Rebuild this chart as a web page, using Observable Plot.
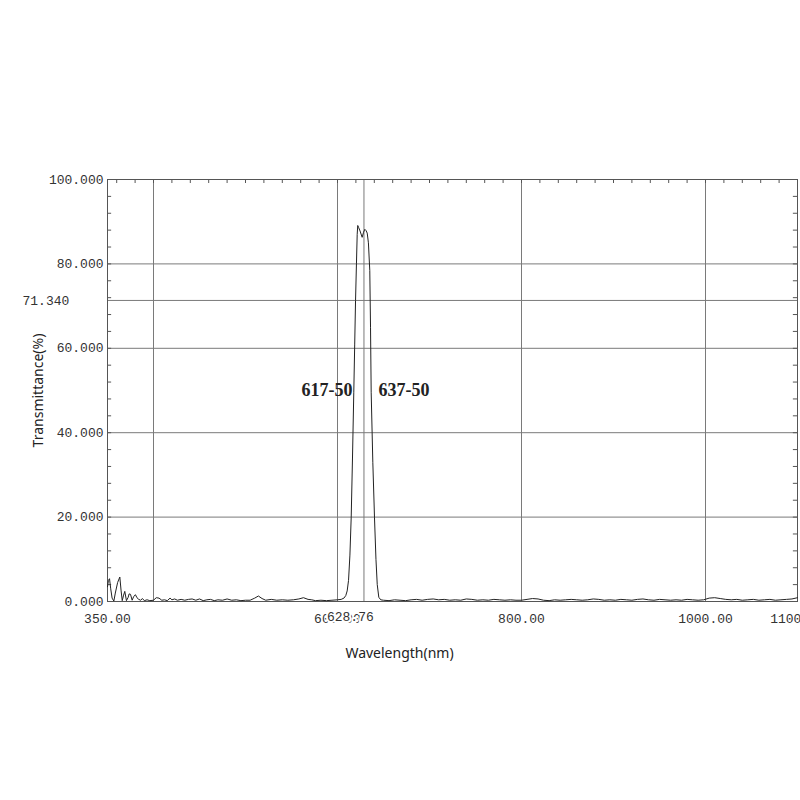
<!DOCTYPE html>
<html>
<head>
<meta charset="utf-8">
<script src="https://cdn.jsdelivr.net/npm/d3@7"></script>
<script src="https://cdn.jsdelivr.net/npm/@observablehq/plot@0.6"></script>
<style>
  body { margin: 0; background: #fff; }
</style>
</head>
<body>
<div id="chart"></div>
<script>
// spectrum
const wavelength = [
  350, 351, 352.2, 353.5, 355, 356.9, 358.5, 361, 363.4, 364.8, 366, 367.5, 368.8, 370.6, 372.5, 373.5,
  375, 376.8, 378.5, 380.4, 382, 384, 386, 388, 390, 393, 396, 400, 403, 406, 409, 412, 415, 418, 420,
  423, 426, 430, 434, 438, 442, 446, 450, 454, 458, 462, 466, 470, 475, 480, 485, 490, 495, 500, 505,
  510, 514, 518, 522, 528, 534, 540, 546, 552, 558, 563, 568, 572, 576, 582, 588, 594, 600, 604, 607,
  609, 610.5, 612, 613.5, 614.9, 616.3, 617.7, 618.7, 619.6, 620.6, 621.4, 622, 623, 624.5, 626.8,
  628.3, 629.7, 631, 632.3, 633.6, 635.1, 635.9, 636.6, 638.4, 640.2, 641.8, 643.2, 644.9, 647, 650,
  656, 662, 668, 674, 680, 686, 692, 698, 704, 710, 716, 722, 728, 734, 740, 746, 752, 758, 764, 770,
  776, 782, 788, 794, 800, 806, 812, 818, 824, 830, 836, 842, 848, 854, 860, 866, 872, 878, 884, 890,
  896, 902, 908, 914, 920, 926, 932, 938, 944, 950, 956, 962, 968, 974, 980, 986, 992, 998, 1004, 1010,
  1016, 1022, 1028, 1034, 1040, 1046, 1052, 1058, 1064, 1070, 1076, 1082, 1088, 1094, 1100
]
const transmittance = [
  3.5, 5.0, 5.4, 3.0, 0.8, 0.1, 2.0, 4.5, 5.8, 2.5, 0.2, 1.5, 2.4, 0.2, 1.0, 1.8,
  1.7, 0.3, 1.2, 1.6, 0.9, 0.5, 0.3, 0.7, 0.2, 0.4, 0.2, 0.3, 0.9, 0.8, 0.3, 0.4, 0.2, 0.8, 0.4,
  0.6, 0.3, 0.5, 0.3, 0.5, 0.6, 0.3, 0.6, 0.2, 0.4, 0.5, 0.2, 0.4, 0.3, 0.6, 0.3, 0.4, 0.2, 0.3, 0.3,
  0.8, 1.3, 0.7, 0.3, 0.5, 0.3, 0.4, 0.3, 0.4, 0.6, 0.9, 0.5, 0.4, 0.2, 0.3, 0.2, 0.3, 0.4, 0.5, 0.8,
  1.4, 2.5, 5, 11, 20, 34, 49.6, 61, 71.3, 80, 87, 89.1, 88.6, 87.8, 86.3,
  87.5, 88.2, 87.9, 87.3, 85, 78.4, 65, 49.6, 33, 20, 10, 4, 1.0, 0.4, 0.3,
  0.2, 0.4, 0.3, 0.2, 0.4, 0.5, 0.3, 0.5, 0.6, 0.4, 0.5, 0.3, 0.4, 0.3, 0.6, 0.5, 0.3, 0.4, 0.3, 0.5,
  0.4, 0.3, 0.4, 0.3, 0.3, 0.5, 0.7, 0.6, 0.3, 0.2, 0.4, 0.3, 0.4, 0.5, 0.4, 0.3, 0.4, 0.6, 0.5, 0.3,
  0.4, 0.3, 0.5, 0.4, 0.3, 0.5, 0.6, 0.4, 0.3, 0.5, 0.4, 0.3, 0.4, 0.3, 0.5, 0.4, 0.3, 0.4, 0.8, 0.9,
  0.7, 0.5, 0.4, 0.5, 0.3, 0.4, 0.5, 0.3, 0.4, 0.5, 0.3, 0.4, 0.5, 0.6, 0.9
]

const xGrid = [400, 600, 628.76, 800, 1000]
const xLabels = [350, 600, 800, 1000, 1100]
const markerX = 628.76
const yGrid = [20, 40, 60, 71.34, 80]
const yLabels = [0, 20, 40, 60, 80, 100]
const markerY = 71.34
const xMinor = d3.range(360, 1101, 20)
const yMinor = d3.range(4, 100, 4)
const leftBand = {x: 616.3, y: 50, text: '617-50'}
const rightBand = {x: 644.6, y: 50, text: '637-50'}

const data = wavelength.map((w, i) => ({w, t: transmittance[i]}))

const mono = 'Liberation Mono, monospace'
const sans = 'Noto Sans, sans-serif'
const bandStyle = {x: 'x', y: 'y', text: 'text', fontFamily: 'Liberation Serif, serif', fontWeight: 'bold', fontSize: 18, fill: '#222'}

const chart = Plot.plot({
  width: 800,
  height: 800,
  marginTop: 179,
  marginBottom: 199,
  marginLeft: 107,
  marginRight: 3,
  style: {fontFamily: mono, fontSize: '13px', color: '#333', background: '#fff'},
  x: {domain: [350, 1100]},
  y: {domain: [0, 100]},
  marks: [
    Plot.ruleX(xGrid, {stroke: '#7a7a7a', strokeOpacity: 1}),
    Plot.ruleY(yGrid, {stroke: '#7a7a7a', strokeOpacity: 1}),
    // minor ticks, pointing inwards
    Plot.ruleX(xMinor, {y1: 100, y2: 99.05, stroke: '#555'}),
    Plot.ruleY(yMinor, {x1: 350, x2: 354.5, stroke: '#555'}),
    Plot.ruleY(yMinor, {x1: 1100, x2: 1095.5, stroke: '#555'}),
    Plot.frame({stroke: '#555'}),
    Plot.line(data, {x: 'w', y: 't', stroke: '#222', strokeWidth: 1}),
    Plot.axisY({ticks: yLabels, tickFormat: d => d.toFixed(3), tickSize: 0, tickPadding: 4, label: null, fill: '#333'}),
    Plot.text([markerY], {y: d => d, frameAnchor: 'left', dx: -85, textAnchor: 'start', text: d => d.toFixed(3), fill: '#333'}),
    Plot.axisX({ticks: xLabels, tickFormat: d => d.toFixed(2), tickSize: 0, tickPadding: 12, label: null, fill: '#333'}),
    Plot.text([markerX], {x: d => d, frameAnchor: 'bottom', dx: -37, dy: 19, textAnchor: 'start',
      text: d => d.toFixed(2), fill: '#333', stroke: '#fff', strokeWidth: 4}),
    Plot.text([leftBand], {...bandStyle, textAnchor: 'end'}),
    Plot.text([rightBand], {...bandStyle, textAnchor: 'start'}),
    Plot.text(['Transmittance(%)'], {frameAnchor: 'left', dx: -69, rotate: -90, textAnchor: 'middle', text: d => d,
      fontFamily: sans, fontSize: 14, fill: '#222'}),
    Plot.text(['Wavelength(nm)'], {frameAnchor: 'bottom-left', dx: 292, dy: 56, textAnchor: 'middle', text: d => d,
      fontFamily: sans, fontSize: 14, fill: '#222'})
  ]
})

d3.select('#chart').append(() => chart)
</script>
</body>
</html>
